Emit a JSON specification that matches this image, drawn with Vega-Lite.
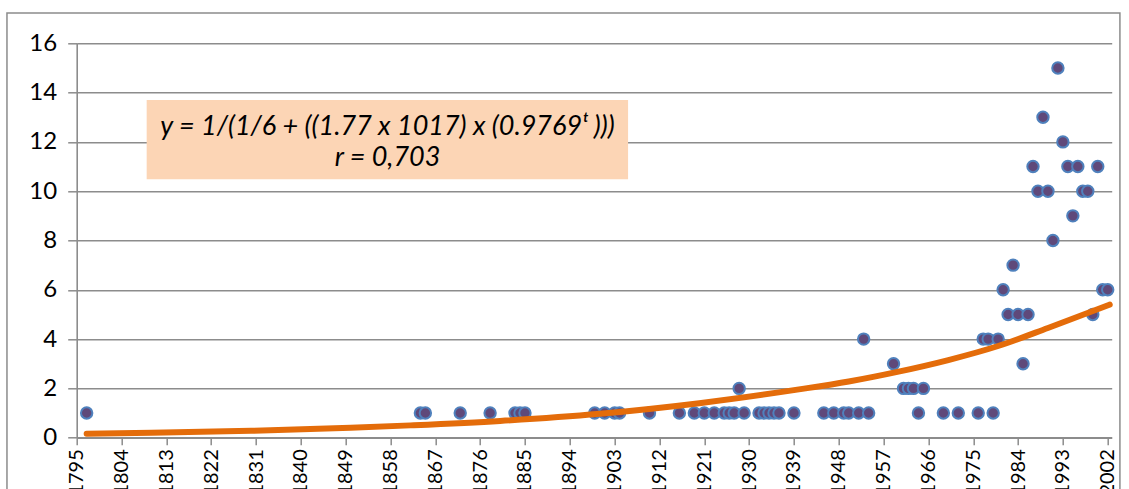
{
  "$schema": "https://vega.github.io/schema/vega-lite/v6.json",
  "width": 1035,
  "height": 394.4,
  "autosize": {"type": "none"},
  "padding": {"left": 76.7, "top": 43.3, "right": 17.3, "bottom": 51.3},
  "background": "white",
  "config": {"view": {"stroke": null}, "font": "Lato"},
  "datasets": {
    "points": [
      {"year": 1797, "n": 1},
      {"year": 1864, "n": 1}, {"year": 1865, "n": 1}, {"year": 1872, "n": 1}, {"year": 1878, "n": 1},
      {"year": 1883, "n": 1}, {"year": 1884, "n": 1}, {"year": 1885, "n": 1},
      {"year": 1899, "n": 1}, {"year": 1901, "n": 1}, {"year": 1903, "n": 1}, {"year": 1904, "n": 1},
      {"year": 1910, "n": 1}, {"year": 1916, "n": 1}, {"year": 1919, "n": 1}, {"year": 1921, "n": 1},
      {"year": 1923, "n": 1}, {"year": 1925, "n": 1}, {"year": 1926, "n": 1}, {"year": 1927, "n": 1},
      {"year": 1928, "n": 2}, {"year": 1929, "n": 1},
      {"year": 1932, "n": 1}, {"year": 1933, "n": 1}, {"year": 1934, "n": 1}, {"year": 1935, "n": 1},
      {"year": 1936, "n": 1}, {"year": 1939, "n": 1},
      {"year": 1945, "n": 1}, {"year": 1947, "n": 1}, {"year": 1949, "n": 1}, {"year": 1950, "n": 1},
      {"year": 1952, "n": 1}, {"year": 1953, "n": 4}, {"year": 1954, "n": 1},
      {"year": 1959, "n": 3}, {"year": 1961, "n": 2}, {"year": 1962, "n": 2}, {"year": 1963, "n": 2},
      {"year": 1964, "n": 1}, {"year": 1965, "n": 2},
      {"year": 1969, "n": 1}, {"year": 1972, "n": 1}, {"year": 1976, "n": 1}, {"year": 1977, "n": 4},
      {"year": 1978, "n": 4}, {"year": 1979, "n": 1}, {"year": 1980, "n": 4},
      {"year": 1981, "n": 6}, {"year": 1982, "n": 5}, {"year": 1983, "n": 7}, {"year": 1984, "n": 5},
      {"year": 1985, "n": 3}, {"year": 1986, "n": 5}, {"year": 1987, "n": 11}, {"year": 1988, "n": 10},
      {"year": 1989, "n": 13}, {"year": 1990, "n": 10}, {"year": 1991, "n": 8}, {"year": 1992, "n": 15},
      {"year": 1993, "n": 12}, {"year": 1994, "n": 11}, {"year": 1995, "n": 9}, {"year": 1996, "n": 11},
      {"year": 1997, "n": 10}, {"year": 1998, "n": 10}, {"year": 1999, "n": 5}, {"year": 2000, "n": 11},
      {"year": 2001, "n": 6}, {"year": 2002, "n": 6}
    ],
    "trend": [
      {"year": 1797, "value": 0.16},
      {"year": 1810, "value": 0.2},
      {"year": 1830, "value": 0.28},
      {"year": 1850, "value": 0.4},
      {"year": 1862, "value": 0.5},
      {"year": 1880, "value": 0.68},
      {"year": 1900, "value": 0.97},
      {"year": 1920, "value": 1.4},
      {"year": 1940, "value": 1.96},
      {"year": 1950, "value": 2.28},
      {"year": 1960, "value": 2.68},
      {"year": 1970, "value": 3.15},
      {"year": 1980, "value": 3.72},
      {"year": 1990, "value": 4.45},
      {"year": 2002.4, "value": 5.4}
    ]
  },
  "layer": [
    {
      "data": {"values": [{}]},
      "mark": {"type": "rect", "filled": false, "stroke": "#8c8c8c", "strokeWidth": 1.5, "clip": false},
      "encoding": {
        "x": {"datum": 1781.0, "type": "quantitative"},
        "x2": {"datum": 2004.45},
        "y": {"datum": 17.23, "type": "quantitative"},
        "y2": {"datum": -3}
      }
    },
    {
      "data": {"name": "points"},
      "mark": {"type": "point", "filled": true, "fill": "#5F497A", "stroke": "#4F81BD", "strokeWidth": 2, "size": 130, "opacity": 1},
      "encoding": {
        "x": {
          "field": "year", "type": "quantitative",
          "scale": {"domain": [1795, 2002.8], "nice": false, "zero": false},
          "axis": {
            "title": null,
            "values": [1795, 1804, 1813, 1822, 1831, 1840, 1849, 1858, 1867, 1876, 1885, 1894, 1903, 1912, 1921, 1930, 1939, 1948, 1957, 1966, 1975, 1984, 1993, 2002],
            "format": "d",
            "labelAngle": -90,
            "labelFontSize": 20,
            "labelColor": "#000000",
            "labelPadding": 4,
            "labelFlush": false,
            "labelOverlap": false,
            "tickSize": 7,
            "tickColor": "#8c8c8c",
            "tickWidth": 1.5,
            "domainColor": "#8c8c8c",
            "domainWidth": 1.6,
            "grid": false
          }
        },
        "y": {
          "field": "n", "type": "quantitative",
          "scale": {"domain": [0, 16], "nice": false},
          "axis": {
            "title": null,
            "values": [0, 2, 4, 6, 8, 10, 12, 14, 16],
            "labelFontSize": 24,
            "labelColor": "#000000",
            "labelPadding": 11,
            "tickSize": 9,
            "tickColor": "#8c8c8c",
            "tickWidth": 1.5,
            "domainColor": "#8c8c8c",
            "domainWidth": 1.6,
            "grid": true,
            "gridColor": "#8c8c8c",
            "gridWidth": 1.6
          }
        }
      }
    },
    {
      "data": {"name": "trend"},
      "mark": {"type": "line", "color": "#E46C0A", "strokeWidth": 6, "strokeCap": "round", "interpolate": "monotone"},
      "encoding": {
        "x": {"field": "year", "type": "quantitative"},
        "y": {"field": "value", "type": "quantitative"}
      }
    },
    {
      "data": {"values": [{}]},
      "mark": {"type": "rect", "fill": "#FCD5B5", "stroke": null},
      "encoding": {
        "x": {"datum": 1809.05, "type": "quantitative"},
        "x2": {"datum": 1905.7},
        "y": {"datum": 13.7, "type": "quantitative"},
        "y2": {"datum": 10.48}
      }
    },
    {
      "data": {"values": [{"label": "y = 1/(1/6 + ((1.77 x 1017) x (0.9769ᵗ )))", "lx": 1857.4, "ly": 12.62}, {"label": "r = 0,703", "lx": 1857.4, "ly": 11.33}]},
      "mark": {"type": "text", "fontSize": 27, "fontStyle": "italic", "color": "#000000", "align": "center", "baseline": "middle"},
      "encoding": {
        "x": {"field": "lx", "type": "quantitative"},
        "y": {"field": "ly", "type": "quantitative"},
        "text": {"field": "label"}
      }
    }
  ]
}
